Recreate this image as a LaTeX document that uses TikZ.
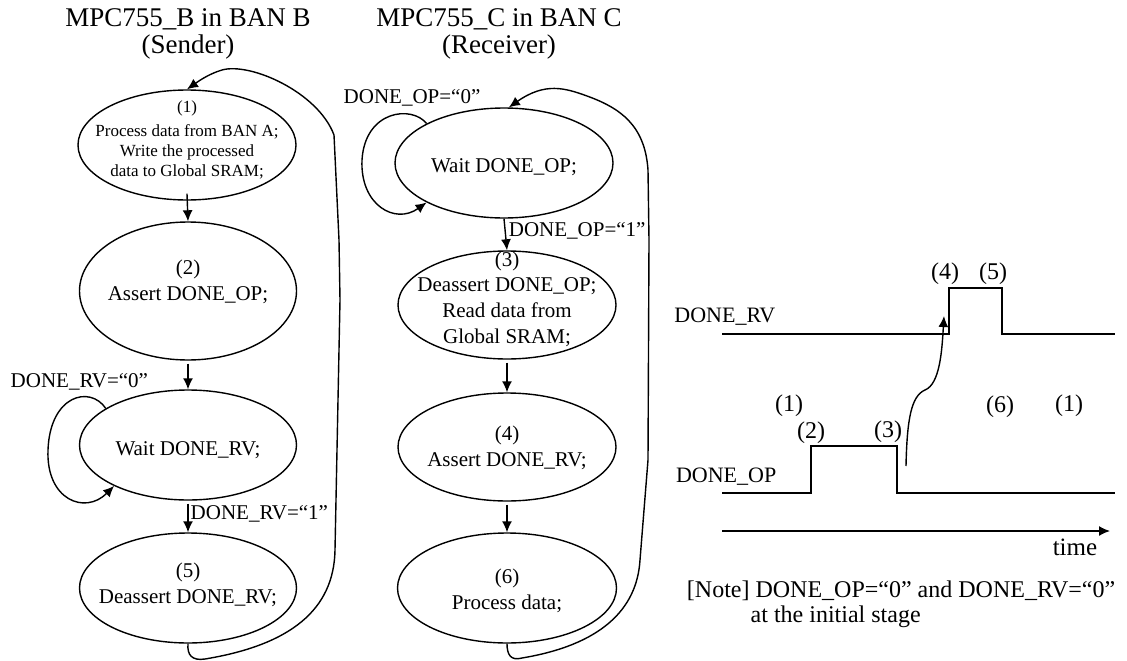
\documentclass[tikz,border=0pt]{standalone}
\usepackage{fontspec}
\setmainfont{Liberation Serif}
\usetikzlibrary{shapes.geometric,arrows.meta}

\begin{document}
\begin{tikzpicture}[x=1pt,y=-1pt,line width=1.4pt,
  stateshape/.style={draw,ellipse,inner sep=0pt},
  txt/.style={font=\fontsize{21}{26}\selectfont,align=center,inner sep=0pt},
  smalltxt/.style={font=\fontsize{17}{20}\selectfont,align=center,inner sep=0pt},
  bigtxt/.style={font=\fontsize{24}{25}\selectfont,inner sep=0pt},
  ttl/.style={font=\fontsize{27}{30}\selectfont,inner sep=0pt},
  arr/.style={-{Latex[length=11pt,width=10pt]}},
  sig/.style={line width=1.4pt}]
\useasboundingbox (0,0) rectangle (1127,661);

% ---------- titles ----------
\node[ttl,anchor=base] (tb1) at (188,27) {MPC755\_B in BAN B};
\node[ttl,anchor=base] (tb2) at (188,54) {(Sender)};
\node[ttl,anchor=base] (tc1) at (499,27) {MPC755\_C in BAN C};
\node[ttl,anchor=base] (tc2) at (499,54) {(Receiver)};

% ---------- sender states ----------
\node[stateshape,minimum width=218pt,minimum height=110pt] (e1) at (187,145) {};
\node[smalltxt] (e1t) at (187,140) {(1)\\[4pt]Process data from BAN A;\\Write the processed\\data to Global SRAM;};
\node[stateshape,minimum width=217pt,minimum height=138pt] (e2) at (188,291) {};
\node[txt] (e2t) at (188,282) {(2)\\Assert DONE\_OP;};
\node[stateshape,minimum width=217pt,minimum height=110pt] (e3) at (188,445) {};
\node[txt] (e3t) at (188,450) {Wait DONE\_RV;};
\node[stateshape,minimum width=217pt,minimum height=110pt] (e5) at (188,588) {};
\node[txt] (e5t) at (188,585) {(5)\\Deassert DONE\_RV;};

% ---------- receiver states ----------
\node[stateshape,minimum width=218pt,minimum height=110pt] (w) at (504,163) {};
\node[txt] (wt) at (504,167) {Wait DONE\_OP;};
\node[stateshape,minimum width=218pt,minimum height=108pt] (r3) at (507,305) {};
\node[txt,font=\fontsize{21}{25.7}\selectfont] (r3t) at (507,299) {(3)\\Deassert DONE\_OP;\\Read data from\\Global SRAM;};
\node[stateshape,minimum width=218pt,minimum height=108pt] (r4) at (507,447) {};
\node[txt] (r4t) at (507,448) {(4)\\Assert DONE\_RV;};
\node[stateshape,minimum width=219pt,minimum height=110pt] (r6) at (507,588) {};
\node[txt] (r6t) at (507,591) {(6)\\Process data;};

% ---------- sender transitions ----------
\draw[arr] ([yshift=7pt]e1.south) -- (e2.north);
\draw[arr] ([yshift=-3pt]e2.south) -- (e3.north);
\draw[arr] ([yshift=-3pt]e3.south) -- node[pos=0.35,anchor=west,txt,xshift=2pt] (lrv1) {DONE\_RV=“1”} (e5.north);
\draw[arr] (e3.156) .. controls (90,385) and (50,395) .. (48,450)
                    .. controls (46,500) and (85,515) .. (e3.209);
\node[txt,anchor=west] (lrv0) at (10,382) {DONE\_RV=“0”};
\draw[arr] (e5.south) .. controls (187,655) and (192,661) .. (205,659)
                      .. controls (290,645) and (334,610) .. (335,550)
                      -- (340,300) -- (339,240) -- (334,135)
                      .. controls (318,92) and (250,62) .. (222,70)
                      .. controls (208,74) and (196,83) .. (e1.north);

% ---------- receiver transitions ----------
\draw[arr] (w.south) -- node[pos=0.4,anchor=west,txt,xshift=3pt] (lop1) {DONE\_OP=“1”} (r3.north);
\draw[arr] ([yshift=-3pt]r3.south) -- (r4.north);
\draw[arr] ([yshift=-3pt]r4.south) -- (r6.north);
\draw[arr] (w.153) .. controls (412,105) and (365,110) .. (362,160)
                   .. controls (360,205) and (395,225) .. (w.207);
\node[txt,anchor=west] (lop0) at (343,98) {DONE\_OP=“0”};
\draw[arr] (r6.south) .. controls (507,655) and (511,661) .. (522,658)
                      .. controls (600,645) and (637,610) .. (640,560)
                      -- (648,460) -- (649,240) -- (648,170)
                      .. controls (645,125) and (620,108) .. (587,96)
                      .. controls (565,88) and (545,82) .. (w.85);

% ---------- timing diagram ----------
\node[txt,font=\fontsize{22}{26}\selectfont,anchor=base east] (nrv) at (776,322) {DONE\_RV};
\node[txt,font=\fontsize{22}{26}\selectfont,anchor=base east] (nop) at (777,482) {DONE\_OP};
\draw[sig] (722,334) -- (949,334) -- (949,288) -- (1002,288) -- (1002,334) -- (1115,334);
\draw[sig] (722,493) -- (811,493) -- (811,446) -- (897,446) -- (897,493) -- (1115,493);
\node[bigtxt] (p4) at (945,274) {(4)};
\node[bigtxt] (p5) at (993,274) {(5)};
\node[bigtxt] (p1a) at (789,406) {(1)};
\node[bigtxt] (p2) at (811,433) {(2)};
\node[bigtxt] (p3) at (888,432) {(3)};
\node[bigtxt] (p6) at (1000,407) {(6)};
\node[bigtxt] (p1b) at (1069,406) {(1)};
\coordinate (cs) at (906,466);
\coordinate (ct) at (944,316);
\draw[arr] (cs) .. controls (907,420) and (911,396) .. (925,390)
                .. controls (940,384) and (942,350) .. (ct);
\coordinate (ta) at (722,531);
\coordinate (tb) at (1110,531);
\draw[arr] (ta) -- (tb);
\node[bigtxt,font=\fontsize{25}{26}\selectfont] (tm) at (1075,547) {time};
\node[bigtxt,anchor=base east] (note1) at (1116,597) {[Note] DONE\_OP=“0” and DONE\_RV=“0”};
\node[bigtxt,anchor=base west] (note2) at (750,622) {at the initial stage};
\end{tikzpicture}
\end{document}
